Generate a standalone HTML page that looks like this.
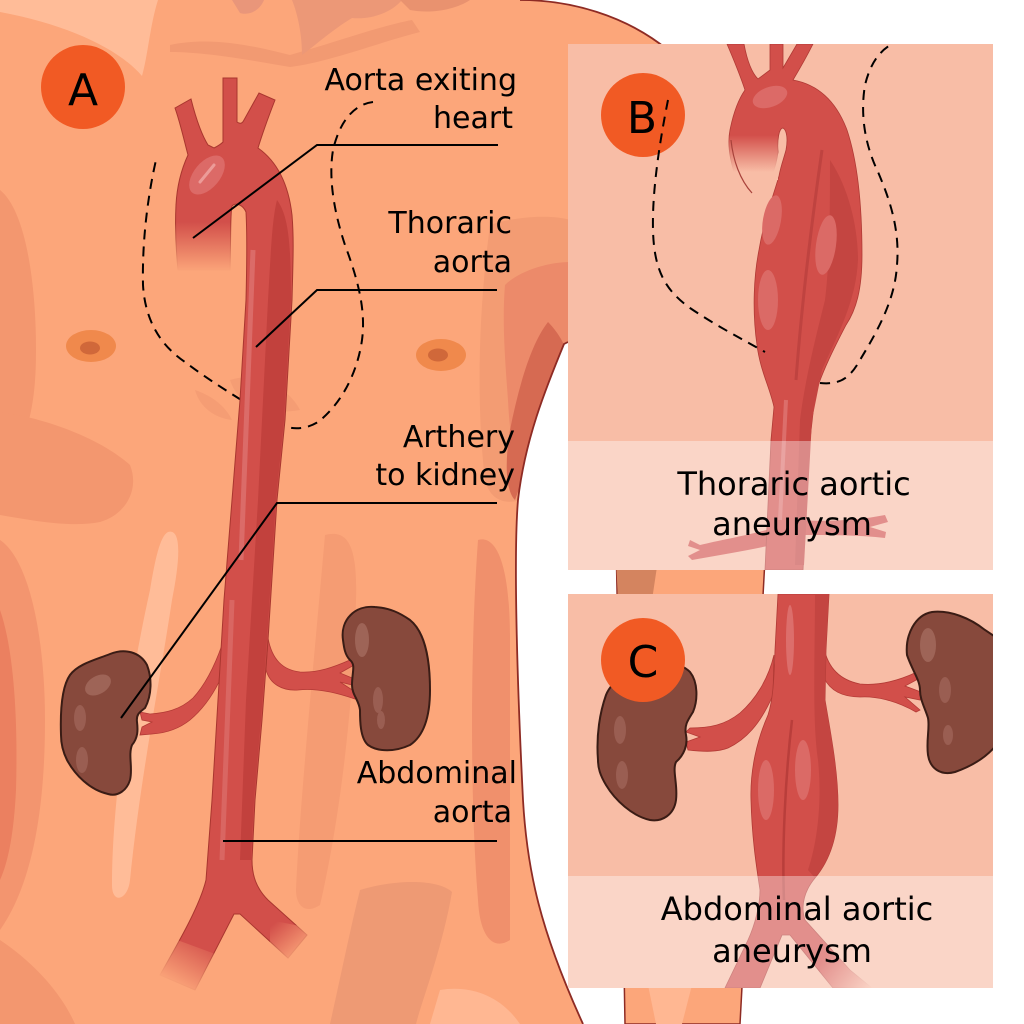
<!DOCTYPE html>
<html><head><meta charset="utf-8"><style>
html,body{margin:0;padding:0;background:#fff;}
svg{display:block;}
text{font-family:"DejaVu Sans","Liberation Sans",sans-serif;fill:#000;}
</style></head><body>
<svg width="1024" height="1024" viewBox="0 0 1024 1024" xmlns="http://www.w3.org/2000/svg">
<defs>
<clipPath id="torso"><path d="M0,0 L520,0 C570,0 625,15 668,50 L668,300 L564,344 C545,390 525,440 518,500 C513,560 518,700 523,800 C527,870 540,930 583,1024 L0,1024 Z"/></clipPath>
<clipPath id="pb"><rect x="568" y="44" width="425" height="526"/></clipPath>
<clipPath id="pc"><rect x="568" y="594" width="425" height="394"/></clipPath>
<linearGradient id="fa" x1="0" y1="222" x2="0" y2="272" gradientUnits="userSpaceOnUse"><stop offset="0" stop-color="#fca67a" stop-opacity="0"/><stop offset="1" stop-color="#fca67a" stop-opacity="1"/></linearGradient>
<linearGradient id="fl" x1="200" y1="935" x2="172" y2="985" gradientUnits="userSpaceOnUse"><stop offset="0" stop-color="#fca67a" stop-opacity="0"/><stop offset="1" stop-color="#fca67a" stop-opacity="1"/></linearGradient>
<linearGradient id="fr" x1="276" y1="922" x2="304" y2="955" gradientUnits="userSpaceOnUse"><stop offset="0" stop-color="#fca67a" stop-opacity="0"/><stop offset="1" stop-color="#fca67a" stop-opacity="1"/></linearGradient>
<linearGradient id="fb" x1="0" y1="135" x2="0" y2="172" gradientUnits="userSpaceOnUse"><stop offset="0" stop-color="#f8bda6" stop-opacity="0"/><stop offset="1" stop-color="#f8bda6" stop-opacity="1"/></linearGradient>
<linearGradient id="fc" x1="830" y1="950" x2="875" y2="985" gradientUnits="userSpaceOnUse"><stop offset="0" stop-color="#f8bda6" stop-opacity="0"/><stop offset="1" stop-color="#f8bda6" stop-opacity="1"/></linearGradient>
</defs>

<!-- arm (behind panels) -->
<path d="M616,540 L766,540 L740,1024 L625,1024 C622,900 620,700 616,540 Z" fill="#fca67a" stroke="#8e2b24" stroke-width="1.5"/>
<path d="M616,560 L658,560 L652,600 L618,600 Z" fill="#d4845f"/>
<path d="M648,985 L692,985 L682,1024 L656,1024 Z" fill="#ffb792"/>

<!-- torso -->
<path d="M0,0 L520,0 C570,0 625,15 668,50 L668,300 L564,344 C545,390 525,440 518,500 C513,560 518,700 523,800 C527,870 540,930 583,1024 L0,1024 Z" fill="#fca67a"/>

<g clip-path="url(#torso)">
  <path d="M0,0 L158,0 C150,25 148,55 142,76 C120,50 70,25 0,12 Z" fill="#ffbc98"/>
  <path d="M170,45 C210,36 255,46 290,55 C330,44 380,26 412,20 L420,32 C380,42 330,62 290,67 C250,60 205,52 170,52 Z" fill="#f29a72"/>
  <path d="M232,0 L264,0 C260,10 250,16 240,13 Z" fill="#e9967a"/>
  <path d="M292,0 L402,0 C392,12 372,20 352,18 C332,30 312,48 302,55 C302,35 298,15 292,0 Z" fill="#ec9877"/>
  <path d="M400,0 L470,0 C455,10 430,14 410,10 Z" fill="#e9926f"/>
  <path d="M0,190 C25,210 36,280 36,350 C36,400 30,440 0,480 Z" fill="#f3976f"/>
  <path d="M0,412 C45,418 100,438 130,465 C140,490 125,515 100,522 C70,528 30,520 0,515 Z" fill="#f3976f"/>
  <path d="M0,540 C30,560 45,640 45,720 C45,800 35,880 0,930 Z" fill="#f3956f"/>
  <path d="M0,610 C14,650 18,720 16,790 C14,830 9,860 0,880 Z" fill="#eb8060"/>
  <path d="M0,940 C30,960 60,990 75,1024 L0,1024 Z" fill="#f3976f"/>
  <path d="M168,532 C182,528 180,560 172,600 C160,680 140,780 130,880 C128,900 112,905 112,885 C112,800 130,680 150,590 C155,560 160,536 168,532 Z" fill="#ffbc98"/>
  <path d="M325,535 C345,530 358,540 356,600 C354,700 340,820 320,905 C305,915 296,905 296,890 C300,800 315,650 325,535 Z" fill="#f59c73"/>
  <path d="M478,540 C495,535 510,560 510,640 L510,940 C495,950 480,940 478,900 C470,800 470,650 478,540 Z" fill="#f0906c"/>
  <!-- deltoid layers -->
  <path d="M490,225 C520,215 555,215 570,220 L570,345 L540,420 L520,500 C505,505 490,500 485,480 C478,420 476,330 490,225 Z" fill="#f39c73"/>
  <path d="M505,285 C520,270 550,262 570,262 L570,345 L545,400 L528,470 C515,470 510,440 508,400 C505,360 502,320 505,285 Z" fill="#ec8a6a"/>
  <path d="M548,322 C556,330 562,340 564,345 L540,410 L526,470 L515,500 C505,490 505,460 510,430 C518,390 530,345 548,322 Z" fill="#d66a52"/>
  <path d="M360,890 C400,878 440,880 452,892 C442,950 422,1000 416,1024 L330,1024 C340,980 350,930 360,890 Z" fill="#ee9a74"/>
  <path d="M230,380 C260,370 290,390 300,410 C270,415 240,410 230,380 Z" fill="#f29a72" opacity="0.7"/>
  <path d="M195,390 C210,395 225,405 232,420 C215,418 200,408 195,390 Z" fill="#f29a72" opacity="0.7"/>
  <path d="M440,990 C470,985 500,995 520,1024 L430,1024 Z" fill="#ffb792"/>
</g>
<!-- torso outline (right edge only) -->
<path d="M520,0 C570,0 625,15 668,50" fill="none" stroke="#8e2b24" stroke-width="1.8"/>
<path d="M568,342 L564,344 C545,390 525,440 518,500 C513,560 518,700 523,800 C527,870 540,930 583,1024" fill="none" stroke="#8e2b24" stroke-width="1.8"/>

<!-- nipples -->
<ellipse cx="91" cy="346" rx="25" ry="16" fill="#f0894c"/>
<ellipse cx="90" cy="348" rx="10" ry="6.5" fill="#d0683a"/>
<ellipse cx="441" cy="355" rx="25" ry="16" fill="#f0894c"/>
<ellipse cx="438" cy="355" rx="10" ry="6.5" fill="#d0683a"/>

<!-- dashed heart outline A -->
<path d="M373,102 C355,104 340,120 333,150 C328,180 335,215 345,245 C358,280 366,310 362,340 C357,375 340,405 318,422 C305,430 290,430 280,424 C250,405 215,385 185,362 C160,345 145,320 143,285 C142,240 148,195 156,160" fill="none" stroke="#000" stroke-width="2" stroke-dasharray="10 7"/>

<!-- renal arteries A -->
<path d="M268,638 C272,660 283,670 300,672 C318,673 334,667 350,660 L356,664 L340,673 L357,680 L356,686 L340,682 L357,693 L355,699 C335,692 315,688 298,690 C282,691 270,684 266,670 Z" fill="#d24f4a" stroke="#b33a35" stroke-width="0.8"/>
<path d="M222,645 C215,665 205,685 193,698 C180,710 165,713 150,714 L140,712 L142,720 L152,722 L142,727 L140,735 L152,734 C168,733 180,728 190,720 C202,710 212,696 219,682 Z" fill="#d24f4a" stroke="#b33a35" stroke-width="0.8"/>

<!-- kidneys A -->
<path d="M61,735 C60,705 63,685 70,675 C78,664 95,660 110,654 C125,648 140,652 147,665 C152,678 152,695 145,708 C140,712 136,714 137,722 C138,730 138,738 132,745 C128,755 133,768 130,780 C127,790 118,797 108,794 C90,790 75,775 67,760 C63,752 61,745 61,735 Z" fill="#87493c" stroke="#3a1c15" stroke-width="2"/>
<ellipse cx="98" cy="685" rx="14" ry="9" transform="rotate(-30 98 685)" fill="#9e6457"/>
<ellipse cx="80" cy="718" rx="6" ry="13" fill="#9a5e52"/>
<ellipse cx="82" cy="760" rx="6" ry="13" fill="#9a5e52"/>
<path d="M343,640 C340,620 355,605 375,607 C390,608 400,613 410,620 C425,632 430,660 430,690 C430,715 425,735 410,745 C395,752 378,752 368,745 C360,738 360,720 360,710 C359,700 352,695 352,685 C352,672 356,665 350,660 C345,655 344,648 343,640 Z" fill="#87493c" stroke="#3a1c15" stroke-width="2"/>
<ellipse cx="362" cy="640" rx="7" ry="17" fill="#9e6457"/>
<ellipse cx="378" cy="700" rx="5" ry="13" fill="#9a5e52"/>
<ellipse cx="381" cy="720" rx="4" ry="9" fill="#9a5e52"/>

<!-- aorta A -->
<path d="M175,108 L191,99 C195,115 200,132 208,145 L214,148 C218,146 221,144 223,142 L223,78 L237,78 L237,122 C240,124 242,124 244,120 L259,93 L275,100 C268,118 262,135 258,148 C275,160 288,180 292,215 C294,240 293,260 292,300 L285,420 L277,500 L268,640 L262,720 L255,800 L252,860 C252,875 256,888 268,900 L307,935 L288,958 L240,914 L234,914 L195,990 L160,975 C180,940 200,905 206,880 L212,800 L218,700 L224,600 L232,500 L240,400 L246,300 C247,260 247,230 246,212 C243,205 236,202 232,206 C230,215 231,240 230,270 L178,270 C176,250 175,225 176,205 C177,185 182,168 188,155 C184,140 180,122 175,108 Z" fill="#d24f4a" stroke="#a9362f" stroke-width="1"/>
<path d="M277,200 C288,215 291,240 291,300 L284,420 L276,500 L267,640 L261,720 L254,800 L251,860 L240,860 L246,700 L258,500 L268,300 C271,250 272,220 277,200 Z" fill="#c2413d"/>
<path d="M253,250 L241,560" stroke="#de7370" stroke-width="5" opacity="0.8"/>
<path d="M232,600 L222,860" stroke="#db6c68" stroke-width="5" opacity="0.8"/>
<ellipse cx="207" cy="175" rx="13" ry="23" transform="rotate(40 207 175)" fill="#dc6a67"/>
<path d="M200,182 L214,165" stroke="#ec9b98" stroke-width="3" stroke-linecap="round"/>
<rect x="170" y="222" width="61" height="52" fill="url(#fa)"/>
<polygon points="150,930 218,955 205,1000 140,990" fill="url(#fl)"/>
<polygon points="270,920 320,930 300,970 270,960" fill="url(#fr)"/>

<!-- circle A -->
<circle cx="83" cy="87" r="42" fill="#f15a24"/>
<text x="83" y="105" font-size="44" text-anchor="middle">A</text>

<!-- leader lines -->
<g stroke="#000" stroke-width="2" fill="none">
<polyline points="498,145 317,145 193,238"/>
<polyline points="497,290 317,290 256,347"/>
<polyline points="497,503 277,503 121,718"/>
<line x1="223" y1="841" x2="497" y2="841"/>
</g>

<!-- labels A -->
<g font-size="30" text-anchor="end">
<text x="517" y="90">Aorta exiting</text>
<text x="513" y="128">heart</text>
<text x="512" y="233">Thoraric</text>
<text x="512" y="272">aorta</text>
<text x="515" y="447">Arthery</text>
<text x="515" y="485">to kidney</text>
<text x="517" y="783">Abdominal</text>
<text x="512" y="822">aorta</text>
</g>

<!-- PANEL B -->
<rect x="568" y="44" width="425" height="526" fill="#f8bda6"/>
<g clip-path="url(#pb)">
  <path d="M773,528 C750,535 720,540 700,545 L690,540 L688,546 L700,550 L688,556 L692,560 C720,555 750,550 772,545 Z" fill="#d24f4a"/>
  <path d="M800,520 C830,522 860,520 885,515 L888,522 L870,527 L886,532 L885,538 C860,535 830,535 800,535 Z" fill="#d24f4a"/>
  <path d="M727,44 L744,44 C747,60 751,72 758,79 L770,70 L770,44 L783,44 L783,68 L797,44 L813,44 C806,58 799,70 793,80 C815,84 835,98 847,130 C857,160 862,200 862,255 C862,290 856,310 846,325 C834,348 822,372 815,395 L810,440 L803,570 L765,570 L771,440 L774,407 C770,388 760,370 757,345 C752,310 754,275 759,250 C764,220 772,200 779,176 C781,165 784,158 786,150 C788,140 787,130 783,128 C779,128 777,140 778,152 C777,160 775,168 772,175 L735,175 C730,160 727,145 730,130 C733,115 738,100 745,90 C740,75 733,58 727,44 Z" fill="#d24f4a" stroke="#b03a35" stroke-width="0.8"/>
  <path d="M830,160 C850,190 858,230 858,260 C856,300 840,330 822,370 L812,420 L804,565 L795,565 L800,420 C805,380 815,340 825,300 C830,260 830,200 830,160 Z" fill="#c44541"/>
  <path d="M822,150 C812,220 802,300 796,380" stroke="#bf4340" stroke-width="3" fill="none"/>
  <ellipse cx="770" cy="97" rx="18" ry="10" transform="rotate(-20 770 97)" fill="#dc6a67"/>
  <ellipse cx="772" cy="220" rx="9" ry="25" transform="rotate(10 772 220)" fill="#db6a66"/>
  <ellipse cx="826" cy="245" rx="10" ry="30" transform="rotate(8 826 245)" fill="#db6a66"/>
  <ellipse cx="768" cy="300" rx="10" ry="30" fill="#db6a66"/>
  <path d="M786,400 L780,520" stroke="#dc6e6b" stroke-width="4"/>
  <rect x="722" y="130" width="56" height="50" fill="url(#fb)"/>
  <path d="M731,140 C733,160 740,180 752,193" stroke="#a8423b" stroke-width="1.2" fill="none"/>
  <circle cx="643" cy="115" r="42" fill="#f15a24"/>
  <text x="642" y="133" font-size="44" text-anchor="middle">B</text>
  <path d="M668,100 C660,140 652,190 653,230 C654,270 665,290 690,308 C715,325 740,338 765,352" fill="none" stroke="#000" stroke-width="2" stroke-dasharray="10 7"/>
  <path d="M820,383 C840,385 850,378 860,360 C878,330 895,300 897,265 C900,230 890,200 878,172 C865,145 860,115 865,85 C870,65 878,52 892,44" fill="none" stroke="#000" stroke-width="2" stroke-dasharray="10 7"/>
  <rect x="568" y="441" width="425" height="129" fill="#ffffff" opacity="0.37"/>
</g>
<text x="794" y="495" font-size="32" text-anchor="middle">Thoraric aortic</text>
<text x="792" y="535" font-size="32" text-anchor="middle">aneurysm</text>

<!-- PANEL C -->
<rect x="568" y="594" width="425" height="394" fill="#f8bda6"/>
<g clip-path="url(#pc)">
  <path d="M774,655 C768,680 755,700 740,713 C725,725 710,728 690,728 L686,732 L700,737 L686,742 L688,750 C705,752 718,752 728,748 C745,740 760,725 773,695 Z" fill="#d24f4a" stroke="#b33a35" stroke-width="0.8"/>
  <path d="M824,648 C828,668 840,680 860,684 C880,686 900,680 917,672 L920,678 L905,686 L921,692 L920,700 L905,697 L920,710 L916,712 C895,700 875,696 860,697 C842,697 830,690 824,678 Z" fill="#d24f4a" stroke="#b33a35" stroke-width="0.8"/>
  <path d="M598,760 C596,735 600,712 606,695 C612,680 630,670 650,666 C665,662 680,662 690,672 C698,682 698,700 693,712 C688,720 684,725 686,735 C688,745 684,755 676,762 C672,770 678,785 676,800 C674,815 662,822 650,820 C632,816 615,800 606,785 C600,775 598,768 598,760 Z" fill="#87493c" stroke="#3a1c15" stroke-width="2"/>
  <ellipse cx="620" cy="730" rx="6" ry="14" fill="#9a5e52"/>
  <ellipse cx="622" cy="775" rx="6" ry="14" fill="#9a5e52"/>
  <path d="M907,655 C905,635 915,615 932,612 C950,610 970,618 985,630 L1000,640 L1000,740 C990,755 975,765 955,772 C940,776 930,768 928,755 C926,740 930,728 928,718 C925,708 920,700 920,690 C920,680 912,670 907,655 Z" fill="#87493c" stroke="#3a1c15" stroke-width="2"/>
  <ellipse cx="928" cy="645" rx="8" ry="17" fill="#9e6457"/>
  <ellipse cx="945" cy="690" rx="6" ry="13" fill="#9a5e52"/>
  <ellipse cx="948" cy="735" rx="5" ry="10" fill="#9a5e52"/>
  <path d="M778,594 L829,594 L826,650 L825,700 C830,730 838,770 838,805 C838,835 830,860 815,878 C805,890 800,905 805,920 L850,970 L872,988 L833,988 L790,935 L782,935 L760,988 L725,988 L748,940 C755,925 760,905 760,890 C757,870 752,840 751,800 C750,770 757,740 768,715 C773,700 774,680 775,650 Z" fill="#d24f4a" stroke="#b03a35" stroke-width="0.8"/>
  <path d="M815,594 L829,594 L826,650 L825,700 C830,730 838,770 838,805 C838,835 830,860 815,878 L808,870 C818,840 822,800 818,760 C812,720 815,650 815,594 Z" fill="#c44541"/>
  <path d="M792,720 C785,780 782,850 784,900" stroke="#b93e3b" stroke-width="2.5" fill="none"/>
  <ellipse cx="790" cy="640" rx="4" ry="35" fill="#dc6e6b"/>
  <ellipse cx="766" cy="790" rx="8" ry="30" fill="#db6a66"/>
  <ellipse cx="803" cy="770" rx="8" ry="30" fill="#db6a66"/>
  <rect x="820" y="945" width="70" height="45" fill="url(#fc)"/>
  <circle cx="643" cy="660" r="42" fill="#f15a24"/>
  <text x="643" y="677" font-size="44" text-anchor="middle">C</text>
  <rect x="568" y="876" width="425" height="112" fill="#ffffff" opacity="0.37"/>
</g>
<text x="797" y="920" font-size="32" text-anchor="middle">Abdominal aortic</text>
<text x="792" y="962" font-size="32" text-anchor="middle">aneurysm</text>
</svg>
</body></html>
